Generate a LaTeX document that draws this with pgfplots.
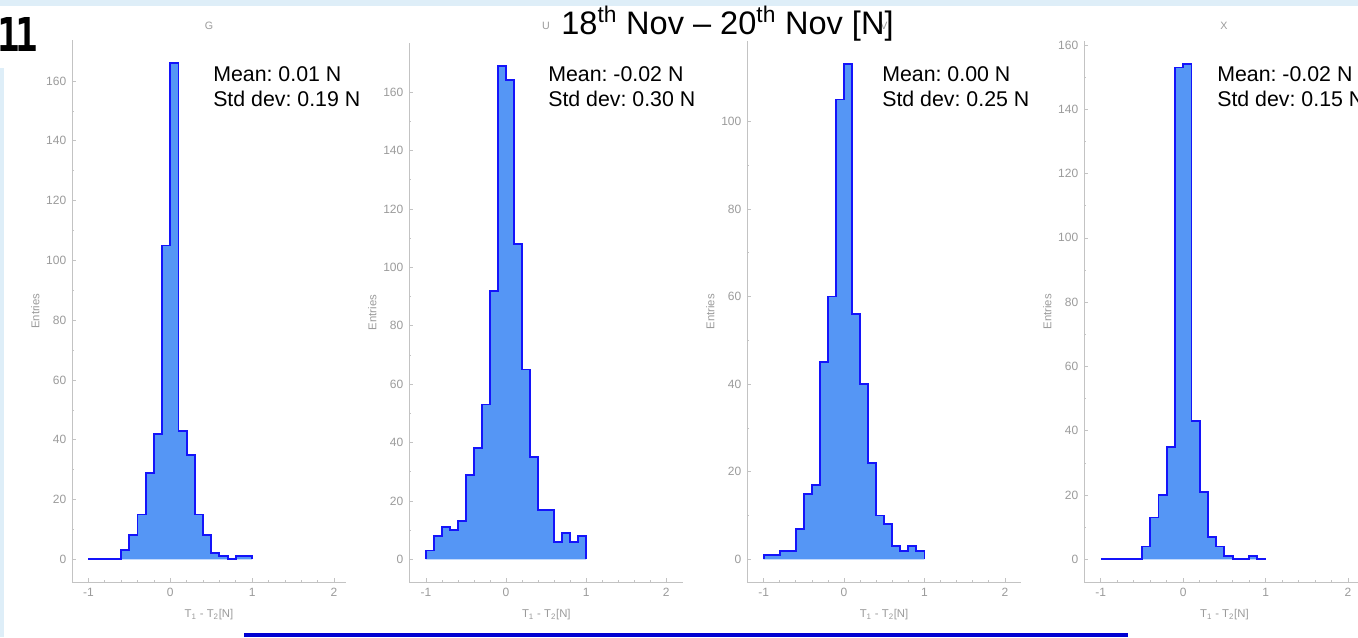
\documentclass[border=0pt]{standalone}
\usepackage{pgfplots}
\pgfplotsset{compat=1.18}
\usepackage{fontspec}
\setmainfont{Liberation Sans}
\newfontfamily\monob{DejaVu Sans Mono}
\definecolor{histfill}{RGB}{85,150,245}
\definecolor{histline}{RGB}{20,20,250}
\definecolor{axgrey}{RGB}{195,195,195}
\definecolor{labgrey}{RGB}{155,155,155}
\definecolor{bandblue}{RGB}{222,238,248}
\definecolor{rulerblue}{RGB}{0,0,210}
\frenchspacing
\pgfplotsset{
  myhist/.style={
    scale only axis,
    anchor=south west,
    axis x line*=bottom, axis y line*=left,
    axis line style={draw=axgrey, line width=0.6pt, -},
    tick style={draw=axgrey, line width=0.5pt},
    major tick length=3pt, minor tick length=1.6pt,
    tick align=inside,
    xtick={-1,0,1,2}, minor x tick num=4,
    minor y tick num=1,
    tick label style={font=\fontsize{9}{10}\selectfont, text=labgrey},
    xticklabel style={yshift=-1pt},
    yticklabel style={xshift=-1pt},
    /pgf/number format/assume math mode=true,
    xlabel={T\textsubscript{1} - T\textsubscript{2}[N]},
    ylabel={Entries},
    every axis x label/.style={at={(axis description cs:0.5,0)}, yshift=-24pt, anchor=center, font=\fontsize{8.5}{10}\selectfont, text=labgrey},
    every axis y label/.style={at={(axis description cs:0,0.5)}, xshift=-27.75pt, rotate=90, anchor=center, font=\fontsize{8.5}{10}\selectfont, text=labgrey},
  },
  fillst/.style={const plot, fill=histfill, draw=none},
  linest/.style={const plot, draw=histline, line width=1.4pt},
}
\begin{document}
\begin{tikzpicture}
\useasboundingbox (0,0) rectangle (1018.5pt,477.75pt);
\clip (0,0) rectangle (1018.5pt,477.75pt);
\fill[white] (0,0) rectangle (1018.5pt,477.75pt);
\fill[bandblue] (0,473.25pt) rectangle (1018.5pt,477.75pt);
\fill[bandblue] (0,0) rectangle (3pt,426.75pt);
\fill[rulerblue] (183pt,0) rectangle (846pt,3pt);

% Panel G
\begin{axis}[myhist, at={(54.2pt,41pt)}, width=205.05pt, height=406.7pt,
  xmin=-1.197, xmax=2.142, ymin=-7.7, ymax=173.7, ytick={0,20,...,160}]
\addplot[fillst] coordinates {(-1,0)(-0.9,0)(-0.8,0)(-0.7,0)(-0.6,3)(-0.5,8)(-0.4,15)(-0.3,29)(-0.2,42)(-0.1,105)(0,166)(0.1,43)(0.2,35)(0.3,15)(0.4,8)(0.5,2)(0.6,1)(0.7,0)(0.8,1)(0.9,1)(1,1)(1,0)} \closedcycle;
\addplot[linest] coordinates {(-1,0)(-0.9,0)(-0.8,0)(-0.7,0)(-0.6,3)(-0.5,8)(-0.4,15)(-0.3,29)(-0.2,42)(-0.1,105)(0,166)(0.1,43)(0.2,35)(0.3,15)(0.4,8)(0.5,2)(0.6,1)(0.7,0)(0.8,1)(0.9,1)(1,1)(1,0)};
\end{axis}

% Panel U
\begin{axis}[myhist, at={(307pt,41pt)}, width=205.5pt, height=404.7pt,
  xmin=-1.207, xmax=2.213, ymin=-7.9, ymax=176.9, ytick={0,20,...,160}]
\addplot[fillst] coordinates {(-1,0)(-1,3)(-0.9,8)(-0.8,11)(-0.7,10)(-0.6,13)(-0.5,29)(-0.4,38)(-0.3,53)(-0.2,92)(-0.1,169)(0,164)(0.1,108)(0.2,65)(0.3,35)(0.4,17)(0.5,17)(0.6,6)(0.7,9)(0.8,6)(0.9,8)(1,8)(1,0)} \closedcycle;
\addplot[linest] coordinates {(-1,0)(-1,3)(-0.9,8)(-0.8,11)(-0.7,10)(-0.6,13)(-0.5,29)(-0.4,38)(-0.3,53)(-0.2,92)(-0.1,169)(0,164)(0.1,108)(0.2,65)(0.3,35)(0.4,17)(0.5,17)(0.6,6)(0.7,9)(0.8,6)(0.9,8)(1,8)(1,0)};
\end{axis}

% Panel V
\begin{axis}[myhist, at={(560.5pt,41pt)}, width=205.05pt, height=405.7pt,
  xmin=-1.202, xmax=2.197, ymin=-5.25, ymax=118.25, ytick={0,20,...,100}]
\addplot[fillst] coordinates {(-1,0)(-1,1)(-0.9,1)(-0.8,2)(-0.7,2)(-0.6,7)(-0.5,15)(-0.4,17)(-0.3,45)(-0.2,60)(-0.1,105)(0,113)(0.1,56)(0.2,40)(0.3,22)(0.4,10)(0.5,8)(0.6,3)(0.7,2)(0.8,3)(0.9,2)(1,2)(1,0)} \closedcycle;
\addplot[linest] coordinates {(-1,0)(-1,1)(-0.9,1)(-0.8,2)(-0.7,2)(-0.6,7)(-0.5,15)(-0.4,17)(-0.3,45)(-0.2,60)(-0.1,105)(0,113)(0.1,56)(0.2,40)(0.3,22)(0.4,10)(0.5,8)(0.6,3)(0.7,2)(0.8,3)(0.9,2)(1,2)(1,0)};
\end{axis}

% Panel X
\begin{axis}[myhist, at={(813.2pt,41pt)}, width=210.2pt, height=405.8pt,
  xmin=-1.2, xmax=2.2, ymin=-7.15, ymax=161.15, ytick={0,20,...,160}]
\addplot[fillst] coordinates {(-1,0)(-0.9,0)(-0.8,0)(-0.7,0)(-0.6,0)(-0.5,4)(-0.4,13)(-0.3,20)(-0.2,35)(-0.1,153)(0,154)(0.1,43)(0.2,21)(0.3,7)(0.4,4)(0.5,1)(0.6,0)(0.7,0)(0.8,1)(0.9,0)(1,0)} \closedcycle;
\addplot[linest] coordinates {(-1,0)(-0.9,0)(-0.8,0)(-0.7,0)(-0.6,0)(-0.5,4)(-0.4,13)(-0.3,20)(-0.2,35)(-0.1,153)(0,154)(0.1,43)(0.2,21)(0.3,7)(0.4,4)(0.5,1)(0.6,0)(0.7,0)(0.8,1)(0.9,0)(1,0)};
\end{axis}

% small panel titles
\begin{scope}[every node/.style={anchor=base, inner sep=0, font=\fontsize{8}{9}\selectfont, text=labgrey}]
\node at (156.75pt,455.25pt) {G};
\node at (409.5pt,455.25pt) {U};
\node at (663pt,455.25pt) {V};
\node at (918pt,455.25pt) {X};
\end{scope}

% main title
\node[anchor=base, inner sep=0, font=\fontsize{24.4}{29}\selectfont] at (545.6pt,451.5pt) {18\textsuperscript{th} Nov – 20\textsuperscript{th} Nov [N]};

% slide number
\node[anchor=base east, inner sep=0, font=\monob\bfseries\fontsize{35}{40}\selectfont] at (28.5pt,438.75pt) {\scalebox{0.8}[1]{1\kern-0.12em 1}};

% statistics boxes
\begin{scope}[every node/.style={anchor=base west, inner sep=0, font=\fontsize{16}{19}\selectfont}]
\node at (159.75pt,416.6pt) {Mean: 0.01 N};
\node at (159.75pt,398.25pt) {Std dev: 0.19 N};
\node at (411pt,416.6pt) {Mean: -0.02 N};
\node at (411pt,398.25pt) {Std dev: 0.30 N};
\node at (661.5pt,416.6pt) {Mean: 0.00 N};
\node at (661.5pt,398.25pt) {Std dev: 0.25 N};
\node at (912.75pt,416.6pt) {Mean: -0.02 N};
\node at (912.75pt,398.25pt) {Std dev: 0.15 N};
\end{scope}
\end{tikzpicture}
\end{document}
